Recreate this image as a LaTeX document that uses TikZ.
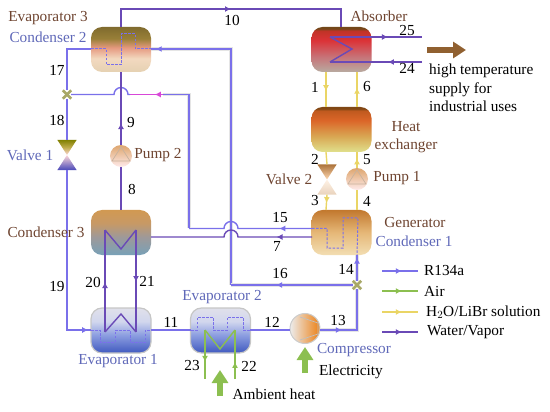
\documentclass[tikz,border=0pt]{standalone}
\usepackage{fontspec}
\setmainfont{Liberation Serif}
\usepackage{xcolor}
\usetikzlibrary{positioning, arrows.meta, decorations.markings}

\definecolor{rblue}{HTML}{7A70EA}
\definecolor{rpink}{HTML}{D848D8}
\definecolor{wpurple}{HTML}{6A4AB6}
\definecolor{airgreen}{HTML}{8CBF50}
\definecolor{solyellow}{HTML}{EAD565}
\definecolor{tbrown}{HTML}{6E4430}
\definecolor{tblue}{HTML}{5F68B8}
\definecolor{splitcol}{HTML}{A8A868}

\pgfdeclareverticalshading{evapthreeshade}{100bp}{rgb(0bp)=(.9,.82,.7); rgb(25bp)=(.9,.82,.7); rgb(40bp)=(.95,.85,.75); rgb(52bp)=(.9,.6,.5); rgb(62bp)=(.6,.5,.22); rgb(75bp)=(.5,.42,.18); rgb(100bp)=(.5,.42,.18)}
\pgfdeclareverticalshading{absorbshade}{100bp}{rgb(0bp)=(.72,.67,.63); rgb(25bp)=(.72,.67,.63); rgb(42bp)=(.78,.45,.47); rgb(60bp)=(.86,.2,.22); rgb(71bp)=(.75,.2,.15); rgb(73bp)=(.45,.28,.1); rgb(100bp)=(.45,.28,.1)}
\pgfdeclareverticalshading{exchshade}{100bp}{rgb(0bp)=(.88,.88,.55); rgb(25bp)=(.88,.88,.55); rgb(42bp)=(.85,.66,.33); rgb(60bp)=(.86,.4,.16); rgb(71bp)=(.75,.35,.12); rgb(73bp)=(.5,.28,.08); rgb(100bp)=(.5,.28,.08)}
\pgfdeclareverticalshading{genshade}{100bp}{rgb(0bp)=(.95,.87,.7); rgb(25bp)=(.95,.87,.7); rgb(50bp)=(.9,.72,.47); rgb(75bp)=(.76,.47,.18); rgb(100bp)=(.76,.47,.18)}
\pgfdeclareverticalshading{condshade}{100bp}{rgb(0bp)=(.47,.63,.72); rgb(25bp)=(.47,.63,.72); rgb(45bp)=(.62,.6,.6); rgb(60bp)=(.78,.6,.4); rgb(75bp)=(.82,.6,.32); rgb(100bp)=(.82,.6,.32)}
\pgfdeclareverticalshading{evapshade}{100bp}{rgb(0bp)=(.25,.35,.75); rgb(25bp)=(.25,.35,.75); rgb(45bp)=(.55,.62,.88); rgb(60bp)=(.82,.84,.93); rgb(75bp)=(.88,.88,.92); rgb(100bp)=(.88,.88,.92)}

\tikzset{
    hxbox/.style={rounded corners=11pt, minimum width=60pt, minimum height=45pt, inner sep=0pt},
    evapbox/.style={hxbox, shading=evapshade, draw=gray!45, line width=1.2pt},
    pumpnode/.style={circle, minimum size=22pt, inner sep=0pt, top color=brown!75!orange!70, bottom color=red!8},
    valvenode/.style={minimum width=19pt, minimum height=30pt, inner sep=0pt},
    junction/.style={minimum size=8pt, inner sep=0pt},
    lbl/.style={font=\fontsize{15.3}{18.5}\selectfont, inner sep=0pt},
    brownlbl/.style={lbl, text=tbrown},
    bluelbl/.style={lbl, text=tblue},
    flowline/.style={line width=1.4pt},
    tipat/.style={postaction={decorate, decoration={markings, mark=at position #1 with {\arrow{Latex[length=6pt,width=6pt]}}}}},
    rline/.style={flowline, color=rblue, draw=rblue},
    pinkline/.style={flowline, color=rpink, draw=rpink},
    wline/.style={flowline, color=wpurple, draw=wpurple},
    airline/.style={flowline, color=airgreen, draw=airgreen},
    solline/.style={flowline, color=solyellow, draw=solyellow},
    halo/.style={preaction={draw=black!10, line width=3.5pt}},
    coil/.style={line width=1pt, dash pattern=on 2.5pt off 1.5pt},
    fatarrow/.style={line width=6.5pt, -{Triangle[length=13pt,width=16pt]}},
    splitmark/.style={line width=2.5pt, draw=splitcol}
}

\begin{document}
\begin{tikzpicture}[x=1pt,y=-1pt]
    \useasboundingbox (0,0) rectangle (550,412);

    % Heat exchangers
    \node[hxbox, shading=evapthreeshade] (evap3) at (121,49.5) {};
    \node[hxbox, shading=absorbshade] (absorber) at (341.5,49.5) {};
    \node[hxbox, shading=exchshade] (exchanger) at (341.5,129.5) {};
    \node[hxbox, shading=genshade] (generator) at (341.5,232.5) {};
    \node[hxbox, shading=condshade] (cond3) at (121,232.5) {};
    \node[evapbox] (evap1) at (121,330.5) {};
    \node[evapbox] (evap2) at (220.5,330.5) {};

    % Machines
    \node[pumpnode] (pump2) at (121,156) {};
    \node[pumpnode] (pump1) at (357,179) {};
    \node[circle, minimum size=30pt, inner sep=0pt, left color=gray!15, right color=orange!70!brown, draw=gray!40, line width=1pt] (compressor) at (305,328.5) {};
    \node[valvenode] (valve1) at (67,155) {};
    \node[valvenode] (valve2) at (327,179.5) {};
    \node[junction] (split1) at (67,94.5) {};
    \node[junction] (split2) at (357,285) {};

    % Valve and pump bodies
    \shade[top color=olive!75!gray, bottom color=red!15] (valve1.north west) -- (valve1.north east) -- (valve1.center) -- cycle;
    \shade[top color=red!15, bottom color=blue!45!gray] (valve1.south west) -- (valve1.south east) -- (valve1.center) -- cycle;
    \shade[top color=brown!90!black, bottom color=orange!30] (valve2.north west) -- (valve2.north east) -- (valve2.center) -- cycle;
    \shade[top color=orange!10, bottom color=brown!35] (valve2.south west) -- (valve2.south east) -- (valve2.center) -- cycle;
    \draw[gray!45!brown!60, line width=0.7pt] (112,161) -- (121,147) -- (130,161) -- cycle;
    \draw[gray!45!brown!60, line width=0.7pt] (348,184) -- (357,170) -- (366,184) -- cycle;
    \draw[gray!50, line width=0.7pt] (300,317) -- (318,323) -- (318,334) -- (300,340);

    % Named points of the circuits
    \coordinate (ev3in) at (151,49);
    \coordinate (ev3out) at (91,49);
    \coordinate (c17) at (67,49);
    \coordinate (c19) at (67,330);
    \coordinate (ev1in) at (91,330);
    \coordinate (ev1out) at (151,330);
    \coordinate (ev2in) at (191,330);
    \coordinate (ev2out) at (250,330);
    \coordinate (c13) at (357,330);
    \coordinate (comin) at (290,330);
    \coordinate (comout) at (320,330);
    \coordinate (c16) at (231,285);
    \coordinate (c16up) at (231,49);
    \coordinate (gen15) at (312,228.5);
    \coordinate (gen7) at (312,237);
    \coordinate (cond7) at (151,237);
    \coordinate (c15) at (189,228.5);
    \coordinate (c15up) at (189,94.5);
    \coordinate (pinka) at (163,94.5);
    \coordinate (pinkb) at (130,94.5);
    \coordinate (gen14) at (357,255);
    \coordinate (ab10) at (341,27);
    \coordinate (ev10) at (121,27);
    \coordinate (c10a) at (121,9);
    \coordinate (c10b) at (341,9);

    % R134a
    \draw[rline, halo, tipat=0.985] (c16) -- (c16up) -- (ev3in);
    \draw[rline] (ev3out) -- (c17) -- (split1);
    \draw[rline] (split1) -- (valve1.north);
    \draw[rline, tipat=0.985] (valve1.south) -- (c19) -- (ev1in);
    \draw[rline, halo, tipat=0.63] (split2) -- (c16);
    \draw[rline, tipat=0.25] (gen15) -- (238,228.5) arc (360:180:7) -- (c15);
    \draw[rline, halo] (c15) -- (c15up) -- (pinka);
    \draw[pinkline, tipat=0.25] (pinka) -- (pinkb);
    \draw[rline] (pinkb) -- (128,94.5) arc (360:180:7) -- (split1);
    \draw[rline] (ev1out) -- (ev2in);
    \draw[rline] (ev2out) -- (comin);
    \draw[rline, halo, tipat=0.28] (comout) -- (c13) -- (split2);
    \draw[rline, halo, tipat=0.9] (split2) -- (gen14);

    % Water and vapor
    \draw[wline, tipat=0.5] (ev10) -- (c10a) -- (c10b) -- (ab10);
    \draw[wline] (cond3.north) -- (pump2.south);
    \draw[wline, tipat=0.3] (pump2.north) -- (evap3.south);
    \draw[wline, tipat=0.21] (gen7) -- (238,237) arc (360:180:7) -- (cond7);
    \coordinate (ab25a) at (330,37);
    \coordinate (ab25b) at (422,37);
    \coordinate (ab24a) at (330,62);
    \coordinate (ab24b) at (422,62);
    \coordinate (abmid) at (352,49);
    \draw[wline, tipat=0.63] (ab25a) -- (ab25b);
    \draw[wline, tipat=0.37] (ab24b) -- (ab24a);
    \draw[wline] (ab25a) -- (abmid) -- (ab24a);
    \coordinate (w20top) at (105,230);
    \coordinate (w21top) at (136,230);
    \coordinate (w20bot) at (105,332);
    \coordinate (w21bot) at (136,332);
    \draw[wline, tipat=0.49] (w20bot) -- (w20top);
    \draw[wline, tipat=0.51] (w21top) -- (w21bot);
    \draw[wline] (w20top) -- (121,249) -- (w21top);
    \draw[wline] (w20bot) -- (121,314) -- (w21bot);

    % Coils inside the boxes
    \draw[rline, coil] (ev3out) -- (106,49) -- (106,65) -- (121,65) -- (121,34) -- (135,34) -- (135,49) -- (ev3in);
    \draw[rline, coil] (gen15) -- (327,228.5) -- (327,248) -- (343,248) -- (343,218) -- (358,218) -- (gen14);
    \draw[rline, coil] (ev1in) -- (100,330) -- (100,342) -- (115,342) -- (115,330) -- (130,330) -- (130,342) -- (145,342) -- (145,330) -- (ev1out);
    \draw[rline, coil] (ev2in) -- (197,330) -- (197,317) -- (213,317) -- (213,330) -- (227,330) -- (227,317) -- (243,317) -- (243,330) -- (ev2out);

    % Air
    \coordinate (air23) at (205,330);
    \coordinate (air22) at (235,330);
    \coordinate (air23e) at (205,379);
    \coordinate (air22e) at (235,379);
    \draw[airline, tipat=0.65] (air23) -- (air23e);
    \draw[airline, tipat=0.35] (air22e) -- (air22);
    \draw[airline] (air23) -- (220,349) -- (air22);
    \coordinate (ambbase) at (220,396);
    \coordinate (ambtip) at (220,370);
    \coordinate (elbase) at (305,373);
    \coordinate (eltip) at (305,347);
    \draw[fatarrow, airgreen] (ambbase) -- (ambtip);
    \draw[fatarrow, airgreen] (elbase) -- (eltip);

    % Solution
    \coordinate (sol1a) at (326,72);
    \coordinate (sol1b) at (326,107);
    \coordinate (sol6a) at (357,107);
    \coordinate (sol6b) at (357,72);
    \coordinate (sol2a) at (326,152);
    \coordinate (sol3b) at (326,210);
    \coordinate (sol5b) at (357,152);
    \coordinate (sol4a) at (357,210);
    \draw[solline, tipat=0.55] (sol1a) -- (sol1b);
    \draw[solline, tipat=0.55] (sol6a) -- (sol6b);
    \draw[solline] (sol2a) -- (valve2.north);
    \draw[solline, tipat=0.55] (valve2.south) -- (sol3b);
    \draw[solline, tipat=0.6] (pump1.north) -- (sol5b);
    \draw[solline] (sol4a) -- (pump1.south);

    % Hot water supply
    \coordinate (supplya) at (427,50);
    \coordinate (supplyb) at (466,50);
    \draw[fatarrow, brown!75!black] (supplya) -- (supplyb);

    % Splitters
    \draw[splitmark] (split1.north west) -- (split1.south east);
    \draw[splitmark] (split1.north east) -- (split1.south west);
    \draw[splitmark] (split2.north west) -- (split2.south east);
    \draw[splitmark] (split2.north east) -- (split2.south west);

    % Component labels
    \node[brownlbl] (levap3) at (48,18) {Evaporator 3};
    \node[bluelbl] (lcond2) at (48,37) {Condenser 2};
    \node[bluelbl] (lvalve1) at (30,155) {Valve 1};
    \node[brownlbl] (lpump2) at (158,155) {Pump 2};
    \node[brownlbl] (labs) at (379,16) {Absorber};
    \node[brownlbl, align=center] (lexch) at (406,137) {Heat\\exchanger};
    \node[brownlbl] (lvalve2) at (289,179) {Valve 2};
    \node[brownlbl] (lpump1) at (397,178) {Pump 1};
    \node[brownlbl] (lgen) at (415,223) {Generator};
    \node[bluelbl] (lcond1) at (414,241) {Condenser 1};
    \node[brownlbl] (lcond3) at (46,232) {Condenser 3};
    \node[bluelbl] (levap1) at (118,361) {Evaporator 1};
    \node[bluelbl] (levap2) at (222,297) {Evaporator 2};
    \node[bluelbl] (lcomp) at (354,350) {Compressor};
    \node[lbl] (lelec) at (351,372) {Electricity};
    \node[lbl] (lamb) at (274,394) {Ambient heat};
    \node[lbl, anchor=west, align=left] (lsupply) at (429,88) {high temperature\\supply for\\industrial uses};

    % State numbers
    \foreach \num/\nx/\ny in {1/315/87, 2/315/159, 3/315/201, 4/367/201, 5/367/160, 6/367/87, 7/277/246, 8/132/189, 9/131/123, 10/232/20, 11/171/322, 12/272/322, 13/338/321, 14/346/269, 15/280/218, 16/280/274, 17/57/70, 18/57/120, 19/57/287, 20/93/282, 21/147/281, 22/249/366, 23/192/366, 24/407/68, 25/407/31}
        \node[lbl] (n\num) at (\nx,\ny) {\num};

    % Legend
    \coordinate (keyra) at (382,271); \coordinate (keyrb) at (418,271);
    \coordinate (keyaa) at (382,291); \coordinate (keyab) at (418,291);
    \coordinate (keysa) at (382,312); \coordinate (keysb) at (418,312);
    \coordinate (keywa) at (382,332); \coordinate (keywb) at (418,332);
    \draw[rline, tipat=0.55] (keyra) -- (keyrb);
    \draw[airline, tipat=0.55] (keyaa) -- (keyab);
    \draw[solline, tipat=0.55] (keysa) -- (keysb);
    \draw[wline, tipat=0.55] (keywa) -- (keywb);
    \node[lbl, anchor=west] (lkeyr) at (424,271) {R134a};
    \node[lbl, anchor=west] (lkeya) at (424,291) {Air};
    \node[lbl, anchor=west] (lkeys) at (426,312) {H$_2$O/LiBr solution};
    \node[lbl, anchor=west] (lkeyw) at (427,332) {Water/Vapor};
\end{tikzpicture}
\end{document}
